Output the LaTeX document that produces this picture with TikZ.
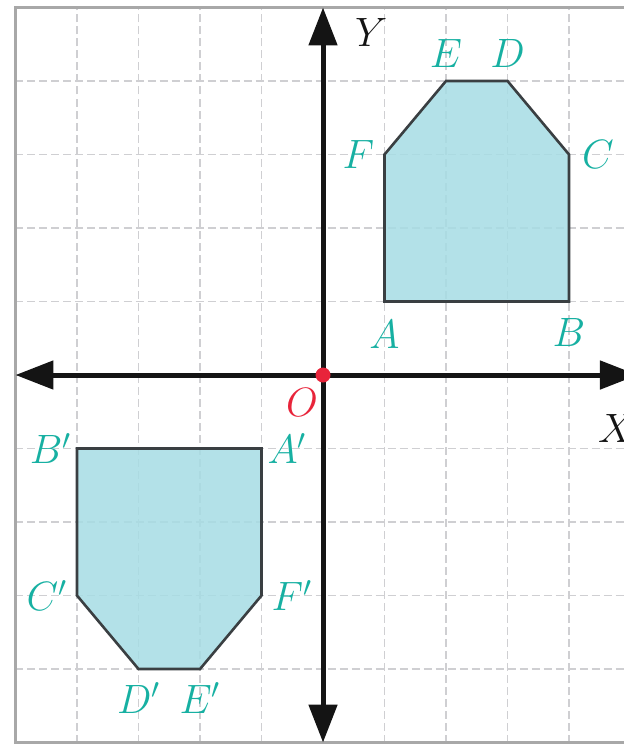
\RequirePackage{fix-cm}
\documentclass[tikz,border=0pt]{standalone}
\usepackage{xcolor}
\usetikzlibrary{arrows.meta,positioning}
\definecolor{ink}{HTML}{141414}
\definecolor{teal}{HTML}{17B0A2}
\definecolor{tealfill}{HTML}{A6DCE4}
\definecolor{edgegray}{HTML}{3A3F42}
\definecolor{red}{HTML}{E8243A}
\definecolor{linegray}{HTML}{CFCFD2}
\definecolor{framegray}{HTML}{A8A8A8}
\tikzset{
  lbl/.style={text=teal, font=\fontsize{41}{44}\selectfont, inner sep=0pt},
  axislbl/.style={lbl, text=ink},
  originlbl/.style={lbl, text=red},
  gridline/.style={draw=linegray, line width=1.6pt, dash pattern=on 8pt off 4pt},
  frameline/.style={draw=framegray, line width=2.4pt},
  polyshape/.style={fill=tealfill, fill opacity=0.85, draw=edgegray, line width=2.6pt, line join=miter},
  axisline/.style={{Triangle[length=38pt,width=28pt]}-{Triangle[length=38pt,width=28pt]}, line width=5pt, draw=ink},
  dot/.style={circle, fill=red, inner sep=0pt, minimum size=15pt},
}
\begin{document}
\begin{tikzpicture}[x=61.5pt, y=73.5pt]
\useasboundingbox (-5.252,-5.020) rectangle (4.878,5.102);
\coordinate (A) at (1,1);\coordinate (B) at (4,1);\coordinate (C) at (4,3);\coordinate (D) at (3,4);\coordinate (E) at (2,4);\coordinate (F) at (1,3);
\coordinate (Ap) at (-1,-1);\coordinate (Bp) at (-4,-1);\coordinate (Cp) at (-4,-3);\coordinate (Dp) at (-3,-4);\coordinate (Ep) at (-2,-4);\coordinate (Fp) at (-1,-3);
\coordinate (xl) at (-5,0);\coordinate (xr) at (5.12,0);\coordinate (yt) at (0,5);\coordinate (yb) at (0,-5);
\foreach \i in {-4,...,4} {\draw[gridline] (\i,-5)--(\i,5);\draw[gridline] (-5,\i)--(5.2,\i);}
\draw[frameline] (5.2,5)--(-5,5)--(-5,-5)--(5.2,-5);
\draw[polyshape] (A)--(B)--(C)--(D)--(E)--(F)--cycle;
\draw[polyshape] (Ap)--(Bp)--(Cp)--(Dp)--(Ep)--(Fp)--cycle;
\draw[axisline] (xl)--(xr);\draw[axisline] (yb)--(yt);
\node[dot] (O) at (0,0) {};
\node[lbl, below=19pt of A] (lA) {$A$};
\node[lbl, below=17pt of B] (lB) {$B$};
\node[lbl, right=13pt of C] (lC) {$C$};
\node[lbl, above=13pt of D] (lD) {$D$};
\node[lbl, above=13pt of E] (lE) {$E$};
\node[lbl, left=10pt of F] (lF) {$F$};
\node[lbl, right=6pt of Ap] (lAp) {$A'$};
\node[lbl, left=6pt of Bp] (lBp) {$B'$};
\node[lbl, left=10pt of Cp] (lCp) {$C'$};
\node[lbl, below=13pt of Dp] (lDp) {$D'$};
\node[lbl, below=13pt of Ep] (lEp) {$E'$};
\node[lbl, right=10pt of Fp] (lFp) {$F'$};
\node[originlbl, below left=13pt and 5pt of O.center] (lO) {$O$};
\node[axislbl, below right=11pt and 32pt of yt] (lY) {$Y$};
\node[axislbl, anchor=north west] (lX) at (4.47,-0.54) {$X$};
\end{tikzpicture}
\end{document}
